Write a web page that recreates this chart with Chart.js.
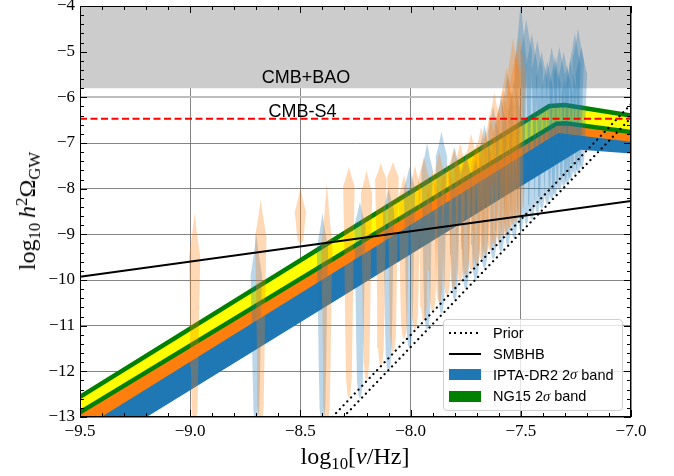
<!DOCTYPE html>
<html>
<head>
<meta charset="utf-8">
<script src="https://cdn.jsdelivr.net/npm/chart.js@4/dist/chart.umd.min.js"></script>
<style>
body { margin: 0; background: #fff; }
#wrap { position: relative; width: 674px; height: 476px; }
#chart { position: absolute; left: 0; top: 0; }
.ttl { position: absolute; font-family: 'Liberation Serif', serif; font-size: 24px; color: #000; white-space: nowrap; line-height: 1; }
.ttl sub, .ttl sup { font-size: 70%; line-height: 0; }
.ttl sub { vertical-align: -0.3em; }
.ttl sup { vertical-align: 0.5em; }
#xtitle { left: 355px; top: 456px; transform: translate(-50%, -50%); }
#ytitle { left: 27px; top: 211px; transform: translate(-50%, -50%) rotate(-90deg); }
#legend { position: absolute; left: 443px; top: 319px; width: 178px; height: 88px; border: 1px solid #d0d0d0; border-radius: 4px;
  background: rgba(255,255,255,0.8); font-family: 'Liberation Sans', sans-serif; font-size: 14.5px; color: #000; padding-top: 2px; }
#legend .row { height: 21.2px; display: flex; align-items: center; }
#legend .h { display: inline-block; width: 32px; margin: 0 12px 0 5px; }
#legend .dot { height: 2px; background: repeating-linear-gradient(90deg, #000 0 2px, transparent 2px 5.3px); }
#legend .solid { height: 2px; background: #000; }
#legend .box { height: 11px; }
#legend i { font-family: 'Liberation Serif', serif; }
</style>
</head>
<body>
<div id="wrap">
  <canvas id="chart" width="674" height="476"></canvas>
  <div class="ttl" id="xtitle">log<sub>10</sub>[<i>ν</i>/Hz]</div>
  <div class="ttl" id="ytitle">log<sub>10</sub>&#8201;<i>h</i><sup>2</sup>Ω<sub>GW</sub></div>
  <div id="legend">
    <div class="row"><span class="h dot"></span>Prior</div>
    <div class="row"><span class="h solid"></span>SMBHB</div>
    <div class="row"><span class="h box" style="background:#1f77b4"></span>IPTA-DR2 2<i>σ</i>&nbsp;band</div>
    <div class="row"><span class="h box" style="background:#008000"></span>NG15 2<i>σ</i>&nbsp;band</div>
  </div>
</div>
<script>
// x: log10(nu/Hz), y: log10 h^2 Omega_GW

// power-law bands (knots)
const ng15UpperX = [-9.5, -7.37, -7.30, -7.0];
const ng15UpperY = [-12.56, -6.19, -6.17, -6.40];
const ng15LowerX = [-9.5, -7.34, -7.29, -7.0];
const ng15LowerY = [-12.90, -6.58, -6.57, -6.76];
const orangeLowX = [-9.5, -7.33, -7.0];
const orangeLowY = [-13.29, -6.78, -6.97];
const iptaLowX = [-9.5, -7.23, -7.0];
const iptaLowY = [-13.90, -7.15, -7.23];

// SMBHB, prior edges, limits
const smbhbX = [-9.5, -7.0];
const smbhbY = [-9.93, -8.27];
const priorAX = [-8.355, -7.0];
const priorAY = [-13.0, -6.15];
const priorBX = [-8.305, -7.0];
const priorBY = [-13.0, -6.45];
const cmbBaoLimit = -5.8;
const cmbS4Limit = -6.47;

// free-spectrum violins: bin frequency, top, widest point, bottom
const iptaFreq = [-8.98, -8.68, -8.50, -8.38, -8.28, -8.20, -8.135, -8.08, -8.03, -7.98, -7.94, -7.90, -7.87, -7.835, -7.805,
  -7.775, -7.75, -7.725, -7.70, -7.68, -7.66, -7.64, -7.62, -7.60, -7.58, -7.565, -7.55, -7.535, -7.52, -7.505];
const iptaTop = [-8.54, -8.24, -7.98, -7.87, -7.52, -7.60, -7.44, -7.41, -7.70, -7.50, -7.30, -7.60, -7.20, -7.45, -7.10,
  -7.00, -7.30, -6.80, -7.00, -6.65, -6.75, -6.40, -5.90, -6.20, -5.80, -5.35, -5.60, -4.70, -4.95, -4.65];
const iptaMode = [-9.50, -9.05, -8.52, -9.30, -7.95, -8.10, -7.80, -7.75, -8.20, -8.00, -7.80, -8.10, -7.70, -7.90, -7.60,
  -7.50, -7.80, -7.30, -7.50, -7.20, -7.30, -6.90, -6.50, -6.80, -6.40, -6.00, -6.20, -5.50, -5.60, -5.40];
const iptaBottom = [-13.2, -13.2, -9.20, -13.2, -12.6, -12.2, -11.9, -11.6, -11.3, -11.1, -10.9, -10.7, -10.5, -10.35, -10.2,
  -10.05, -9.9, -9.8, -9.7, -9.55, -9.45, -9.35, -9.25, -9.15, -9.05, -9.0, -8.9, -8.8, -8.75, -8.65];

const ng15Freq = [-8.70, -8.40, -8.23, -8.10, -8.005, -7.925, -7.86, -7.80, -7.75, -7.705, -7.665, -7.625, -7.59, -7.56, -7.53,
  -7.50, -7.475, -7.45, -7.425, -7.405, -7.38, -7.36, -7.345, -7.325, -7.305, -7.29, -7.275, -7.255, -7.24, -7.225];
const ng15Top = [-9.00, -8.54, -8.29, -7.99, -7.52, -7.00, -6.75, -7.10, -7.20, -7.35, -6.60, -6.20, -5.99, -5.50, -5.60,
  -3.90, -4.30, -4.60, -4.75, -5.00, -5.20, -4.90, -5.10, -4.90, -5.00, -5.30, -5.20, -4.60, -4.50, -4.90];
const ng15Mode = [-9.90, -9.30, -8.80, -8.50, -8.00, -7.60, -7.30, -7.60, -7.70, -7.80, -7.20, -6.80, -6.60, -6.20, -6.30,
  -5.20, -5.00, -5.30, -5.40, -5.60, -5.80, -5.60, -5.70, -5.50, -5.60, -5.90, -5.80, -5.30, -5.20, -5.50];
const ng15Bottom = [-13.2, -13.2, -12.6, -12.0, -11.5, -11.1, -10.75, -10.45, -10.2, -10.0, -9.75, -9.55, -9.4, -9.25, -9.1,
  -8.95, -8.8, -8.7, -8.55, -8.45, -8.35, -8.25, -8.15, -8.05, -7.95, -7.9, -7.8, -7.7, -7.65, -7.55];

const pts = (xs, ys) => xs.map((x, i) => ({x: x, y: ys[i]}));
const polygon = (xa, ya, xb, yb) => pts(xa, ya).concat(pts(xb, yb).reverse());

// violin outline: [half-width fraction, position from top(0) via mode(1) to bottom(2)]
const VIOLIN_HALF = 0.026;
const PROFILE = [[0, 0], [0.45, 0.5], [1, 1], [0.8, 1.3], [0.65, 1.65], [0.5, 1.9], [0.25, 1.98], [0, 2]];
function violin(x, top, mode, bot) {
  const yAt = t => t <= 1 ? top + t * (mode - top) : mode + (t - 1) * (bot - mode);
  const right = PROFILE.map(p => ({x: x + p[0] * VIOLIN_HALF, y: yAt(p[1])}));
  const left = PROFILE.slice(1, -1).reverse().map(p => ({x: x - p[0] * VIOLIN_HALF, y: yAt(p[1])}));
  return right.concat(left);
}

const datasets = [
  {data: pts([-9.5, -7.0], [cmbS4Limit, cmbS4Limit]), borderColor: '#ff0000', borderWidth: 2, borderDash: [7, 3.5], order: 0},
  {data: pts(smbhbX, smbhbY), borderColor: '#000', borderWidth: 2, order: 1},
  {data: pts(priorAX, priorAY), borderColor: '#000', borderWidth: 2.2, borderDash: [0.1, 5.3], borderCapStyle: 'round', order: 2},
  {data: pts(priorBX, priorBY), borderColor: '#000', borderWidth: 2.2, borderDash: [0.1, 5.3], borderCapStyle: 'round', order: 2},
  {data: pts(ng15UpperX, ng15UpperY), borderColor: '#008000', borderWidth: 4.5, borderJoinStyle: 'round', order: 4},
  {data: pts(ng15LowerX, ng15LowerY), borderColor: '#008000', borderWidth: 4.5, borderJoinStyle: 'round', order: 4},
  {data: polygon(ng15UpperX, ng15UpperY, ng15LowerX, ng15LowerY), borderWidth: 0, backgroundColor: '#ffff00', fill: 'shape', order: 5},
  {data: polygon(ng15LowerX, ng15LowerY, orangeLowX, orangeLowY), borderWidth: 0, backgroundColor: '#ff7f0e', fill: 'shape', order: 6},
  {data: polygon(ng15LowerX, ng15LowerY, iptaLowX, iptaLowY), borderWidth: 0, backgroundColor: '#1f77b4', fill: 'shape', order: 7},
  {data: pts([-9.5, -7.0], [cmbBaoLimit, cmbBaoLimit]), borderWidth: 0, backgroundColor: '#cccccc', fill: 'end', order: 8}
];
iptaFreq.forEach((f, i) => datasets.push({
  data: violin(f, iptaTop[i], iptaMode[i], iptaBottom[i]), borderWidth: 0,
  backgroundColor: 'rgba(255,127,14,0.3)', fill: 'shape', order: 3
}));
ng15Freq.forEach((f, i) => datasets.push({
  data: violin(f, ng15Top[i], ng15Mode[i], ng15Bottom[i]), borderWidth: 0,
  backgroundColor: 'rgba(31,119,180,0.3)', fill: 'shape', order: 3
}));
datasets.forEach(d => { d.showLine = true; d.pointRadius = 0; d.tension = 0; });

const fmt = v => (v < 0 ? '\u2212' : '') + Math.abs(v);

// frame, inward major/minor ticks on all sides
const frameTicks = {
  id: 'frameTicks',
  afterDraw(chart) {
    const {ctx, chartArea: a, scales: {x, y}} = chart;
    ctx.save();
    ctx.strokeStyle = '#000';
    ctx.lineWidth = 1;
    ctx.strokeRect(a.left + 0.5, a.top + 0.5, a.right - a.left - 1, a.bottom - a.top - 1);
    ctx.beginPath();
    for (let i = 0; i <= 25; i++) {
      const px = Math.round(x.getPixelForValue(-9.5 + i * 0.1)) + 0.5;
      const len = i % 5 === 0 ? 7 : 4;
      ctx.moveTo(px, a.bottom); ctx.lineTo(px, a.bottom - len);
      ctx.moveTo(px, a.top); ctx.lineTo(px, a.top + len);
    }
    for (let i = 0; i <= 45; i++) {
      const py = Math.round(y.getPixelForValue(-13 + i * 0.2)) + 0.5;
      const len = i % 5 === 0 ? 7 : 4;
      ctx.moveTo(a.left, py); ctx.lineTo(a.left + len, py);
      ctx.moveTo(a.right, py); ctx.lineTo(a.right - len, py);
    }
    ctx.stroke();
    ctx.restore();
  }
};

const cmbLabels = {
  id: 'cmbLabels',
  afterDatasetsDraw(chart) {
    const {ctx, scales: {x, y}} = chart;
    ctx.save();
    ctx.font = '18px "Liberation Sans"';
    ctx.fillStyle = '#000';
    ctx.textAlign = 'center';
    ctx.fillText('CMB+BAO', x.getPixelForValue(-8.475), y.getPixelForValue(-5.69));
    ctx.fillText('CMB-S4', x.getPixelForValue(-8.49), y.getPixelForValue(-6.42));
    ctx.restore();
  }
};

new Chart(document.getElementById('chart'), {
  type: 'scatter',
  data: {datasets: datasets},
  options: {
    responsive: false,
    devicePixelRatio: 1,
    animation: false,
    events: [],
    layout: {padding: {left: 0, right: 43, top: 6, bottom: 0}},
    plugins: {legend: {display: false}, tooltip: {enabled: false}},
    scales: {
      x: {
        type: 'linear', min: -9.5, max: -7.0, z: 1,
        grid: {color: 'rgba(110,110,110,0.85)', lineWidth: 1, drawTicks: false},
        border: {display: false},
        ticks: {stepSize: 0.5, padding: 4, color: '#000', font: {family: 'Liberation Serif', size: 17},
          callback: v => (v < 0 ? '\u2212' : '') + Math.abs(v).toFixed(1)},
        afterFit: s => { s.height = 59; s.paddingLeft = 0; s.paddingRight = 0; }
      },
      y: {
        type: 'linear', min: -13, max: -4, z: 1,
        grid: {
          color: c => c.tick && c.tick.value === -6 ? '#bdbdbd' : 'rgba(110,110,110,0.85)',
          lineWidth: c => c.tick && c.tick.value === -6 ? 2 : 1,
          drawTicks: false
        },
        border: {display: false},
        ticks: {stepSize: 1, padding: 5, color: '#000', font: {family: 'Liberation Serif', size: 17}, callback: fmt},
        afterFit: s => { s.width = 80; s.paddingTop = 0; s.paddingBottom = 0; }
      }
    }
  },
  plugins: [cmbLabels, frameTicks]
});
</script>
</body>
</html>
